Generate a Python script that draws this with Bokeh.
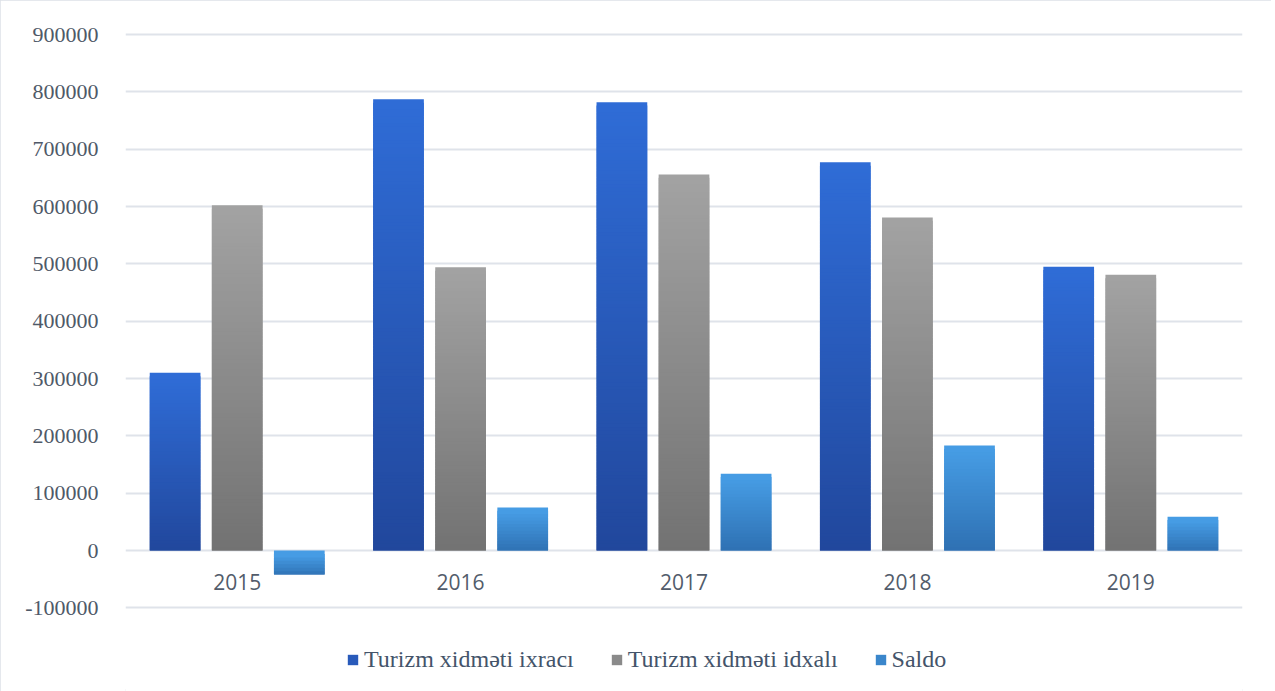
import math
from bokeh.plotting import figure
from bokeh.models import (ColumnDataSource, FactorRange, Range1d, FixedTicker,
                          Legend, LegendItem, PrintfTickFormatter)
from bokeh.transform import dodge
from bokeh.core.properties import value
from bokeh.embed import file_html
from bokeh.resources import INLINE

# ---- data ----
years = ["2015", "2016", "2017", "2018", "2019"]
export_vals = [310000, 787000, 782000, 677000, 495000]
import_vals = [602000, 494000, 656000, 581000, 481000]
saldo_vals = [-42000, 75000, 134000, 183000, 59000]
series_names = ["Turizm xidməti ixracı", "Turizm xidməti idxalı", "Saldo"]
y_ticks = [-100000, 0, 100000, 200000, 300000, 400000, 500000, 600000, 700000, 800000, 900000]

# ---- styling ----
top_colors = [(0x2F, 0x6C, 0xD6), (0xA2, 0xA2, 0xA2), (0x46, 0x9C, 0xE4)]
bot_colors = [(0x21, 0x47, 0x9C), (0x72, 0x72, 0x72), (0x2E, 0x70, 0xB2)]
offsets = [-0.278, 0.0, 0.278]
bar_w = 0.227
SLICE = 6000  # gradient slice height in data units (~3.4 px)


def lerp_color(c0, c1, t):
    return "#%02x%02x%02x" % tuple(int(round(a + (b - a) * t)) for a, b in zip(c0, c1))


p = figure(width=1271, height=691,
           x_range=FactorRange(*years, range_padding=0),
           y_range=Range1d(-245930, 905233),
           output_backend="svg", toolbar_location=None,
           min_border_left=125, min_border_right=29,
           min_border_top=31, min_border_bottom=0)
p.styles = {"outline": "2px solid #dde1e7", "outline-offset": "-2px"}
p.outline_line_color = None
p.background_fill_color = "white"
p.border_fill_color = "white"

p.xaxis.visible = False
p.xgrid.grid_line_color = None
p.ygrid.grid_line_color = "#dfe3ea"
p.ygrid.grid_line_width = 2

p.yaxis.ticker = FixedTicker(ticks=y_ticks)
p.yaxis.formatter = PrintfTickFormatter(format="%d")
p.yaxis.axis_line_color = None
p.yaxis.major_tick_line_color = None
p.yaxis.minor_tick_line_color = None
p.yaxis.major_label_standoff = 21
p.yaxis.major_label_text_font = "Liberation Serif"
p.yaxis.major_label_text_font_size = "22px"
p.yaxis.major_label_text_color = "#4f5968"

items = []
for s, vals in enumerate([export_vals, import_vals, saldo_vals]):
    xs, bottoms, tops, colors = [], [], [], []
    legend_idx = 0
    for i, (yr, v) in enumerate(zip(years, vals)):
        lo, hi = min(0, v), max(0, v)
        n = max(2, math.ceil((hi - lo) / SLICE))
        step = (hi - lo) / n
        for k in range(n):
            b = lo + k * step
            t = b + step
            if k > 0:
                b -= step
            if i == 0 and k == n // 2:
                legend_idx = len(xs)
            xs.append(yr)
            bottoms.append(b)
            tops.append(t)
            colors.append(lerp_color(bot_colors[s], top_colors[s], k / (n - 1)))
    src = ColumnDataSource(dict(x=xs, bottom=bottoms, top=tops, color=colors))
    r = p.vbar(x=dodge("x", offsets[s], range=p.x_range), width=bar_w,
               bottom="bottom", top="top", source=src,
               fill_color="color", line_color=None)
    items.append(LegendItem(label=series_names[s], renderers=[r], index=legend_idx))

# category labels just below the zero line
lab_src = ColumnDataSource(dict(x=years, y=[0] * len(years), t=years))
p.text(x="x", y="y", text="t", source=lab_src, y_offset=31,
       text_align="center", text_baseline="middle",
       text_font=value("Open Sans"), text_font_size="21px", text_color="#525c6b")

legend = Legend(items=items, orientation="horizontal", location=(221, 18),
                glyph_width=13, glyph_height=13, label_standoff=5, spacing=36,
                padding=0, margin=0, border_line_color=None,
                background_fill_alpha=0,
                label_text_font="Liberation Serif", label_text_font_size="24px",
                label_text_color="#44546a")
p.add_layout(legend)

open("out.html", "w").write(file_html(p, INLINE))
